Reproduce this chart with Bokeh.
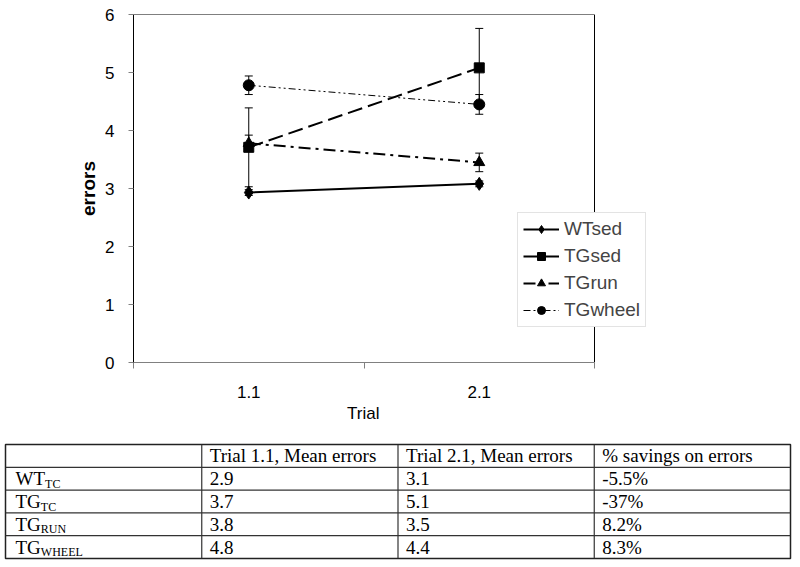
from bokeh.plotting import figure
from bokeh.models import (Range1d, FixedTicker, ColumnDataSource, Whisker, TeeHead,
                          Legend, LegendItem, Title)
from bokeh.embed import file_html
from bokeh.resources import INLINE
from bokeh.core.properties import value

# ---------------- data ----------------
trials = ["1.1", "2.1"]
series = ["WTsed", "TGsed", "TGrun", "TGwheel"]
wt_sed = [2.93, 3.08]
tg_sed = [3.71, 5.08]
tg_run = [3.78, 3.45]
tg_wheel = [4.78, 4.45]
wt_sed_err = [0.05, 0.05]
tg_sed_err = [0.68, 0.68]
tg_run_err = [0.14, 0.16]
tg_wheel_err = [0.16, 0.17]
y_ticks = [0, 1, 2, 3, 4, 5, 6]
x_title = "Trial"
y_title = "errors"

table_header = ["", "Trial 1.1, Mean errors", "Trial 2.1, Mean errors", "% savings on errors"]
row_main = ["WT", "TG", "TG", "TG"]
row_sub = ["TC", "TC", "RUN", "WHEEL"]
mean_11 = ["2.9", "3.7", "3.8", "4.8"]
mean_21 = ["3.1", "5.1", "3.5", "4.4"]
savings = ["-5.5%", "-37%", "8.2%", "8.3%"]

# ---------------- styles / layout ----------------
SANS = "Liberation Sans"
SERIF = "Liberation Serif"
styles = {
    "WTsed":   dict(dash="solid", width=2, marker="diamond", size=13),
    "TGsed":   dict(dash="15 6", width=2, marker="square", size=10),
    "TGrun":   dict(dash="12 5 3 5", width=2, marker="triangle", size=11),
    "TGwheel": dict(dash="7 3 2 3 2 3", width=1, marker="circle", size=11),
}
values = {"WTsed": wt_sed, "TGsed": tg_sed, "TGrun": tg_run, "TGwheel": tg_wheel}
errors = {"WTsed": wt_sed_err, "TGsed": tg_sed_err, "TGrun": tg_run_err, "TGwheel": tg_wheel_err}

PLOT_W = 461          # width of the boxed plot area in px
FRAME_W = 527         # frame extends to the right so the legend can overlap the box
LEFT = 133
FIG_W = 800
Y_MAX = y_ticks[-1]
n = len(trials)
xs = [i + 0.5 for i in range(n)]
x_end = n * FRAME_W / PLOT_W

p = figure(width=FIG_W, height=424, x_range=Range1d(0, x_end), y_range=Range1d(0, Y_MAX),
           output_backend="svg", toolbar_location=None,
           min_border_left=LEFT, min_border_right=FIG_W - LEFT - FRAME_W,
           min_border_top=14, min_border_bottom=10)
p.outline_line_color = None
p.xgrid.visible = False
p.ygrid.visible = False

# y axis
p.yaxis.ticker = FixedTicker(ticks=y_ticks)
p.yaxis.axis_label = y_title
p.yaxis.axis_label_text_font = SANS
p.yaxis.axis_label_text_font_style = "bold"
p.yaxis.axis_label_text_font_size = "19px"
p.yaxis.axis_label_text_color = "black"
p.yaxis.axis_label_standoff = 3
p.yaxis.major_label_text_font = SANS
p.yaxis.major_label_text_font_size = "17px"
p.yaxis.major_label_text_color = "black"
p.yaxis.major_label_standoff = 14
p.yaxis.major_tick_out = 5
p.yaxis.major_tick_in = 0
p.yaxis.major_tick_line_color = "#808080"
p.yaxis.minor_tick_line_color = None
p.yaxis.axis_line_color = "black"

# x axis: labels at category centres, tick marks at category boundaries
p.xaxis.bounds = (0, n)
p.xaxis.ticker = FixedTicker(ticks=xs, minor_ticks=list(range(n + 1)))
p.xaxis.major_label_overrides = {x: t for x, t in zip(xs, trials)}
p.xaxis.major_tick_line_color = None
p.xaxis.major_tick_out = 0
p.xaxis.minor_tick_out = 6
p.xaxis.minor_tick_in = 0
p.xaxis.minor_tick_line_color = "#808080"
p.xaxis.axis_line_color = "#808080"
p.xaxis.major_label_text_font = SANS
p.xaxis.major_label_text_font_size = "17px"
p.xaxis.major_label_text_color = "black"
p.xaxis.major_label_standoff = 17

# x-axis title centred under the boxed plot area (not the wider frame)
TITLE_W = 34
p.add_layout(Title(text=x_title, align="left", offset=PLOT_W / 2 - TITLE_W / 2,
                   text_font=SANS, text_font_size="17px", text_font_style="normal",
                   text_color="black", standoff=3), "below")

# box around the plot area (top and right sides)
p.segment(x0=[0, n], y0=[Y_MAX, 0], x1=[n, n], y1=[Y_MAX, Y_MAX],
          line_color="black", line_width=1)

items = []
for name in series:
    st = styles[name]
    vals = values[name]
    errs = errors[name]
    src = ColumnDataSource(dict(x=xs, y=vals,
                                upper=[v + e for v, e in zip(vals, errs)],
                                lower=[v - e for v, e in zip(vals, errs)]))
    w = Whisker(base="x", upper="upper", lower="lower", source=src, line_color="black",
                line_width=1, level="underlay",
                upper_head=TeeHead(size=8, line_color="black", line_width=1),
                lower_head=TeeHead(size=8, line_color="black", line_width=1))
    p.add_layout(w)
    lr = p.line("x", "y", source=src, line_color="black", line_width=st["width"],
                line_dash=st["dash"])
    mr = p.scatter("x", "y", source=src, marker=st["marker"], size=st["size"],
                   fill_color="black", line_color="black")
    items.append(LegendItem(label=name, renderers=[lr, mr]))

legend = Legend(items=items, location=(384, 35), orientation="vertical",
                label_text_font=SANS, label_text_font_size="19px",
                glyph_width=36, glyph_height=20, label_height=20, spacing=5,
                padding=5, margin=0, label_standoff=5,
                border_line_color="#c8c8c8", border_line_width=1,
                background_fill_color="white", background_fill_alpha=1)
p.add_layout(legend)

# ---------------- table ----------------
ncols = len(table_header)
nrows = len(row_main) + 1
t = figure(width=FIG_W, height=143, x_range=Range1d(0, ncols), y_range=Range1d(nrows, 0),
           output_backend="svg", toolbar_location=None,
           min_border_left=5, min_border_right=10, min_border_top=20, min_border_bottom=9,
           x_axis_location=None, y_axis_location=None)
t.xgrid.visible = False
t.ygrid.visible = False
t.outline_line_color = "#222222"
t.outline_line_width = 1.5

# grid lines from the table's own dimensions
t.segment(x0=[0] * (nrows - 1), x1=[ncols] * (nrows - 1),
          y0=list(range(1, nrows)), y1=list(range(1, nrows)),
          line_color="#333333", line_width=1.2)
t.segment(x0=list(range(1, ncols)), x1=list(range(1, ncols)),
          y0=[0] * (ncols - 1), y1=[nrows] * (ncols - 1),
          line_color="#333333", line_width=1.2)

FS = 19
# header
t.text(x=list(range(1, ncols)), y=[0.5] * (ncols - 1), text=table_header[1:],
       x_offset=8, text_baseline="middle", text_align="left",
       text_font=value(SERIF), text_font_size=f"{FS}px", text_color="black")
# body cells
body_rows = [r + 1.5 for r in range(len(row_main))]
for ci, col_vals in enumerate([mean_11, mean_21, savings], start=1):
    t.text(x=[ci] * len(col_vals), y=body_rows, text=col_vals,
           x_offset=8, text_baseline="middle", text_align="left",
           text_font=value(SERIF), text_font_size=f"{FS}px", text_color="black")
# row labels with subscripts
cw = {"W": 0.944, "T": 0.611, "G": 0.722}
main_w = [10 + sum(cw.get(c, 0.6) for c in s) * FS for s in row_main]
t.text(x=[0] * len(row_main), y=body_rows, text=row_main,
       x_offset=10, text_baseline="middle", text_align="left",
       text_font=value(SERIF), text_font_size=f"{FS}px", text_color="black")
t.text(x=[0] * len(row_sub), y=body_rows, text=row_sub,
       x_offset=main_w, y_offset=5, text_baseline="middle", text_align="left",
       text_font=value(SERIF), text_font_size="12px", text_color="black")

open("out.html", "w").write(file_html([p, t], INLINE))
